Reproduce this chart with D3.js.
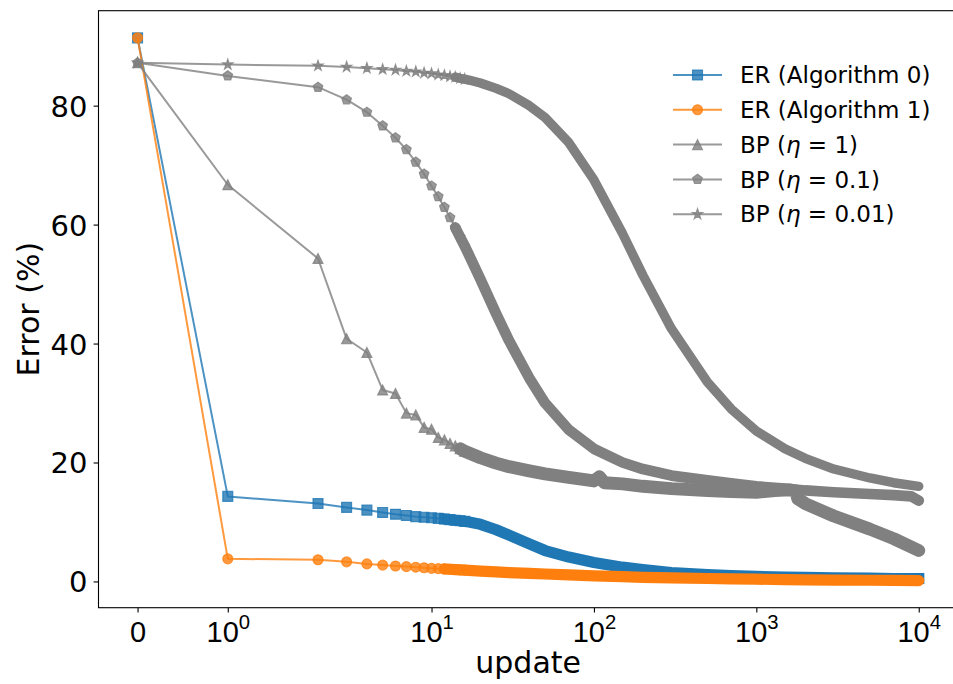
<!DOCTYPE html>
<html><head><meta charset="utf-8">
<script src="https://cdn.jsdelivr.net/npm/d3@7"></script>
<style>
html,body{margin:0;padding:0;background:#fff;}
svg{display:block;font-family:"DejaVu Sans",sans-serif;}
</style></head>
<body>
<svg id="chart" width="953" height="684"></svg>
<script>
// ---------- data ----------
const xTickValues = [0, 1, 10, 100, 1000, 10000];
const xTickExps   = [null, "0", "1", "2", "3", "4"];
const yTickValues = [0, 20, 40, 60, 80];

const er0X = [0,1,2,3,4,5,6,7,8,9,10,11,12,13,14,15,16,17,20,25,30,40,50,70,100,150,200,300,500,700,1000,1500,2000,3000,5000,7000,10000];
const er0Y = [91.4,14.3,13.1,12.45,12.0,11.6,11.3,11.1,10.9,10.8,10.7,10.6,10.5,10.4,10.3,10.2,10.1,10.0,9.6,8.7,7.8,6.3,5.2,4.1,3.2,2.4,2.0,1.5,1.15,1.0,0.85,0.75,0.7,0.6,0.55,0.5,0.5];

const er1X = er0X;
const er1Y = [91.4,3.8,3.65,3.3,2.95,2.75,2.6,2.5,2.4,2.3,2.2,2.15,2.1,2.05,2.0,1.95,1.9,1.85,1.75,1.6,1.5,1.35,1.25,1.1,0.95,0.8,0.7,0.6,0.5,0.42,0.38,0.32,0.28,0.24,0.2,0.18,0.15];

const bp1X = [0,1,2,3,4,5,6,7,8,9,10,11,12,13,14,15,16,17,20,25,30,40,50,70,100,108,116,150,200,300,500,700,1000,1300,1600,1750,1800,2000,3000,5000,7000,10000];
const bp1Y = [87.2,66.7,54.3,40.8,38.5,32.2,31.6,28.3,28.0,25.9,25.6,24.2,23.8,23.2,22.8,22.3,21.9,21.6,20.8,19.9,19.3,18.6,18.1,17.5,16.9,17.6,16.6,16.4,16.0,15.6,15.3,15.1,15.0,15.3,15.4,15.2,13.9,13.1,11.0,8.8,7.2,5.2];

const bp01X = [0,1,2,3,4,5,6,7,8,9,10,11,12,13,14,15,16,17,20,25,30,40,50,70,100,150,200,300,500,700,1000,1500,2000,3000,5000,7000,9000,10000];
const bp01Y = [87.2,85.0,83.1,81.0,78.9,76.6,74.6,72.6,70.5,68.5,66.5,64.7,62.9,61.2,59.5,57.9,56.4,54.9,50.8,45.0,40.5,34.2,30.0,25.5,22.3,20.0,18.9,17.8,17.0,16.5,16.0,15.6,15.3,15.0,14.7,14.5,14.3,13.6];

const bp001X = [0,1,2,3,4,5,6,7,8,9,10,11,12,13,14,15,16,17,20,25,30,40,50,70,100,150,200,300,500,700,1000,1500,2000,3000,5000,7000,10000];
const bp001Y = [87.2,86.9,86.7,86.5,86.3,86.1,86.0,85.8,85.7,85.5,85.4,85.2,85.1,84.9,84.8,84.6,84.45,84.3,83.8,82.9,82.0,80.0,78.0,73.8,67.5,58.5,51.5,42.5,33.5,29.0,25.3,22.3,20.7,18.9,17.4,16.6,16.0];

const seriesNames  = ["ER (Algorithm 0)", "ER (Algorithm 1)", "BP (η = 1)", "BP (η = 0.1)", "BP (η = 0.01)"];
const seriesColors = ["#1f77b4", "#ff7f0e", "#808080", "#808080", "#808080"];
const seriesMarkers = ["square", "circle", "triangle", "pentagon", "star"];

const series = [
  {name: seriesNames[0], xs: er0X, ys: er0Y},
  {name: seriesNames[1], xs: er1X, ys: er1Y},
  {name: seriesNames[2], xs: bp1X, ys: bp1Y},
  {name: seriesNames[3], xs: bp01X, ys: bp01Y},
  {name: seriesNames[4], xs: bp001X, ys: bp001Y}
].map((s, i) => ({...s, color: seriesColors[i], marker: seriesMarkers[i],
  pts: s.xs.map((x, j) => ({x, y: s.ys[j]}))}));

// ---------- layout / style ----------
const plot = {left: 98.5, right: 957.8, top: 10.7, bottom: 607.7};
const MS = 9.9;          // marker size (px)
const LW = 2.0;          // line width
const ALPHA = 0.8;
const MARKERS_UPTO = 16; // individual markers drawn where the per-update points are still apart
// where the per-update markers have merged into a continuous band, and its width
const bandStyle = {
  square:   {from: 12, width: MS + 1.3, cap: "square"},
  circle:   {from: 12, width: MS + 1.3, cap: "round"},
  triangle: {from: 15, width: MS + 3.0, cap: "round"},
  pentagon: {from: 14, width: MS + 0.8, cap: "round"},
  star:     {from: 14, width: MS * 0.95, cap: "round"}
};

// matplotlib-style symlog transform (linthresh = 2, linscale = 1)
const LINTHRESH = 2, LINSCALE_ADJ = 1 / (1 - 1 / 10);
function symT(v) {
  const a = Math.abs(v), s = Math.sign(v);
  if (a <= LINTHRESH) return v * LINSCALE_ADJ;
  return s * LINTHRESH * (LINSCALE_ADJ + Math.log10(a / LINTHRESH));
}

const allX = series.flatMap(s => s.xs.map(symT));
const allY = series.flatMap(s => s.ys);
const [tx0, tx1] = d3.extent(allX);
const [y0, y1] = d3.extent(allY);
const padX = (tx1 - tx0) * 0.05, padY = (y1 - y0) * 0.05;

const xLin = d3.scaleLinear().domain([tx0 - padX, tx1 + padX]).range([plot.left, plot.right]);
const x = v => xLin(symT(v));
const y = d3.scaleLinear().domain([y0 - padY, y1 + padY]).range([plot.bottom, plot.top]);

const svg = d3.select("#chart");

svg.append("defs").append("clipPath").attr("id", "clip")
  .append("rect").attr("x", plot.left).attr("y", plot.top)
  .attr("width", plot.right - plot.left).attr("height", plot.bottom - plot.top);

// ---------- markers ----------
function markerPath(type, m) {
  const r = m / 2;
  if (type === "square") return `M${-r},${-r}H${r}V${r}H${-r}Z`;
  if (type === "circle") return d3.symbol(d3.symbolCircle, Math.PI * r * r)();
  if (type === "triangle") return `M0,${-r}L${-r},${r}L${r},${r}Z`;
  if (type === "pentagon") {
    const p = d3.range(5).map(k => { const a = -Math.PI / 2 + k * 2 * Math.PI / 5; return [r * Math.cos(a), r * Math.sin(a)]; });
    return "M" + p.map(q => q.join(",")).join("L") + "Z";
  }
  if (type === "star") {
    const ri = r * 0.381966;
    const p = d3.range(10).map(k => { const a = -Math.PI / 2 + k * Math.PI / 5; const rr = k % 2 ? ri : r; return [rr * Math.cos(a), rr * Math.sin(a)]; });
    return "M" + p.map(q => q.join(",")).join("L") + "Z";
  }
}
const markerSize = t => t === "star" ? MS * 1.1 : (t === "pentagon" ? MS * 1.02 : MS);

const g = svg.append("g").attr("clip-path", "url(#clip)");
const line = d3.line().x(d => x(d.x)).y(d => y(d.y));

series.forEach(s => {
  const sg = g.append("g");
  const bs = bandStyle[s.marker];
  sg.append("path").attr("d", line(s.pts)).attr("fill", "none")
    .attr("stroke", s.color).attr("stroke-opacity", ALPHA).attr("stroke-width", LW)
    .attr("stroke-linejoin", "round");
  const dense = s.pts.filter(d => d.x >= bs.from);
  sg.append("path").attr("d", line(dense)).attr("fill", "none")
    .attr("stroke", s.color).attr("stroke-width", bs.width)
    .attr("stroke-linejoin", "round").attr("stroke-linecap", bs.cap);
  sg.selectAll("path.mk").data(s.pts.filter(d => d.x <= MARKERS_UPTO)).join("path")
    .attr("class", "mk")
    .attr("transform", d => `translate(${x(d.x)},${y(d.y)})`)
    .attr("d", markerPath(s.marker, markerSize(s.marker)))
    .attr("fill", s.color).attr("fill-opacity", ALPHA)
    .attr("stroke", s.color).attr("stroke-opacity", ALPHA).attr("stroke-width", 1.2);
});

// ---------- axes ----------
const tickFont = 29;
const xAxis = d3.axisBottom(xLin).tickValues(xTickValues.map(symT)).tickSize(4.9).tickFormat("");
const gx = svg.append("g").attr("transform", `translate(0,${plot.bottom})`).call(xAxis);
gx.select(".domain").remove();
gx.selectAll(".tick line").attr("stroke", "#000").attr("stroke-width", 1.1);
gx.selectAll(".tick").each(function(d, i) {
  const t = d3.select(this).append("text").attr("y", 34).attr("text-anchor", "middle")
    .attr("font-size", tickFont).attr("fill", "#000");
  if (xTickExps[i] === null) t.text("0");
  else {
    t.append("tspan").text("10");
    t.append("tspan").text(xTickExps[i]).attr("font-size", tickFont * 0.7).attr("dy", -12.5);
  }
});

const yAxis = d3.axisLeft(y).tickValues(yTickValues).tickSize(4.9).tickFormat(d3.format("d"));
const gy = svg.append("g").attr("transform", `translate(${plot.left},0)`).call(yAxis);
gy.select(".domain").remove();
gy.selectAll(".tick line").attr("stroke", "#000").attr("stroke-width", 1.1);
gy.selectAll(".tick text").attr("font-size", tickFont).attr("font-family", "DejaVu Sans")
  .attr("x", -11).attr("dy", "0.36em").attr("fill", "#000");

svg.append("rect").attr("x", plot.left).attr("y", plot.top)
  .attr("width", plot.right - plot.left).attr("height", plot.bottom - plot.top)
  .attr("fill", "none").attr("stroke", "#000").attr("stroke-width", 1.1);

svg.append("text").attr("x", (plot.left + plot.right) / 2).attr("y", 673)
  .attr("text-anchor", "middle").attr("font-size", 30).text("update");
svg.append("text").attr("transform", `translate(39,${(plot.top + plot.bottom) / 2}) rotate(-90)`)
  .attr("text-anchor", "middle").attr("font-size", 30).text("Error (%)");

// ---------- legend ----------
const leg = svg.append("g");
const legRowY = d3.scaleLinear().domain([0, 1]).range([75, 109.8]);
series.forEach((s, i) => {
  const ly = legRowY(i);
  leg.append("line").attr("x1", 673).attr("x2", 722).attr("y1", ly).attr("y2", ly)
    .attr("stroke", s.color).attr("stroke-opacity", ALPHA).attr("stroke-width", LW);
  leg.append("path").attr("transform", `translate(697.5,${ly})`)
    .attr("d", markerPath(s.marker, markerSize(s.marker)))
    .attr("fill", s.color).attr("fill-opacity", ALPHA)
    .attr("stroke", s.color).attr("stroke-opacity", ALPHA).attr("stroke-width", 1.2);
  const t = leg.append("text").attr("x", 740).attr("y", ly).attr("dy", "0.36em")
    .attr("font-size", 23).attr("fill", "#000");
  const m = s.name.match(/^(.*\()η = (.*)\)$/);
  if (m) {
    t.append("tspan").text(m[1]);
    t.append("tspan").text("η").attr("font-style", "italic");
    t.append("tspan").text(" = " + m[2] + ")");
  } else t.text(s.name);
});
</script>
</body></html>
